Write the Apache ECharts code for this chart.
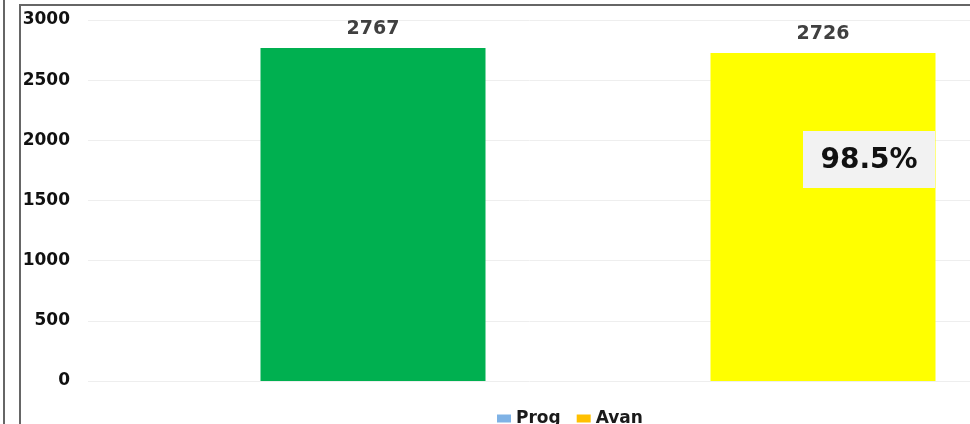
<!DOCTYPE html>
<html>
<head>
<meta charset="utf-8">
<script src="https://cdn.jsdelivr.net/npm/echarts@6/dist/echarts.min.js"></script>
<style>
html,body{margin:0;padding:0;background:#fff;}
#main{width:970px;height:424px;}
</style>
</head>
<body>
<div id="main"></div>
<script>
var categories = [''];
var progValues = [2767];
var avanValues = [2726];
var yTicks = { min: 0, max: 3000, interval: 500 };
var pctText = (avanValues[0] / progValues[0] * 100).toFixed(1) + '%';
var pctLevel = [1840];

var chart = echarts.init(document.getElementById('main'));
var FONT = 'DejaVu Sans';
chart.setOption({
  animation: false,
  backgroundColor: '#ffffff',
  grid: { left: 88, width: 1020, top: 20, height: 361, containLabel: false, outerBoundsMode: 'none' },
  legend: {
    left: 492, top: 405,
    itemWidth: 14, itemHeight: 8, itemGap: 16,
    icon: 'rect',
    textStyle: { fontFamily: FONT, fontWeight: 'bold', fontSize: 17, color: '#1a1a1a' },
    data: ['Prog', 'Avan']
  },
  xAxis: {
    type: 'category', data: categories,
    axisLine: { show: false }, axisTick: { show: false }, axisLabel: { show: false }
  },
  yAxis: {
    type: 'value', min: yTicks.min, max: yTicks.max, interval: yTicks.interval,
    axisLine: { show: false }, axisTick: { show: false },
    axisLabel: { margin: 18, fontFamily: FONT, fontWeight: 'bold', fontSize: 17, color: '#111',
      formatter: function (v) { return String(v); } },
    splitLine: { lineStyle: { color: '#eeeeee', width: 1 } }
  },
  series: [
    {
      name: 'Prog', type: 'bar', barWidth: 225, barGap: '100%',
      itemStyle: { color: '#7fb2e5' },
      data: progValues.map(function (v) { return { value: v, itemStyle: { color: '#00b050' } }; }),
      label: { show: true, position: 'top', distance: 9, fontFamily: FONT, fontWeight: 'bold', fontSize: 19, color: '#404040' }
    },
    {
      name: 'Avan', type: 'bar', barWidth: 225,
      itemStyle: { color: '#ffc000' },
      data: avanValues.map(function (v) { return { value: v, itemStyle: { color: '#ffff00' } }; }),
      label: { show: true, position: 'top', distance: 9, fontFamily: FONT, fontWeight: 'bold', fontSize: 19, color: '#404040' },
      markPoint: {
        symbol: 'rect', symbolSize: [132, 57], symbolOffset: [46, 0],
        itemStyle: { color: '#f2f2f2' },
        label: { show: true, formatter: pctText, fontFamily: FONT, fontWeight: 'bold', fontSize: 28, color: '#111', offset: [0, 1] },
        data: [{ coord: [0, pctLevel[0]] }]
      }
    }
  ],
  graphic: [
    { type: 'rect', left: 3, top: 0, shape: { width: 2, height: 424 }, style: { fill: '#666' }, z: 100 },
    { type: 'rect', left: 19, top: 4, shape: { width: 2, height: 420 }, style: { fill: '#666' }, z: 100 },
    { type: 'rect', left: 19, top: 4, shape: { width: 951, height: 2 }, style: { fill: '#666' }, z: 100 }
  ]
});
</script>
</body>
</html>
